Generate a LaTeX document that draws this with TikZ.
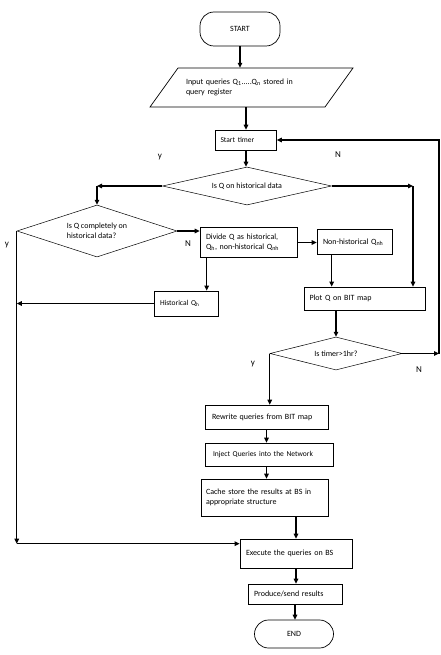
\documentclass[tikz,border=0pt]{standalone}
\usepackage{fontspec}
\setmainfont{Carlito}
\usetikzlibrary{arrows.meta,shapes.geometric,calc}
\begin{document}
\begin{tikzpicture}[x=1pt,y=-1pt,
  font=\fontsize{8}{9.5}\selectfont,
  box/.style={draw, line width=0.7pt, rectangle, inner sep=0pt, align=left},
  dia/.style={draw, line width=0.5pt, diamond, inner sep=0pt, align=left},
  term/.style={draw, line width=0.7pt, rectangle, rounded corners=14pt, inner sep=0pt},
  lab/.style={font=\fontsize{9}{10}\selectfont, inner sep=0pt},
  arr/.style={line width=1.2pt, -{Triangle[length=5pt,width=4.5pt]}},
  ln/.style={line width=1.2pt}]
\useasboundingbox (0,0) rectangle (441,655);

% nodes
\node[term, minimum width=80, minimum height=34] (start) at (240,29) {START};
\draw[line width=0.7pt] (178,68) -- (353,68) -- (325,107) -- (150,107) -- cycle;
\node[inner sep=0pt, text width=140, minimum height=39, align=left] (input) at (256,87.5)
  {Input queries Q\textsubscript{1}.....Q\textsubscript{n} stored in\\query register};
\node[box, minimum width=61, minimum height=20, text width=51] (timer) at (246,140) {\fontsize{7.5}{9}\selectfont Start timer};
\node[dia, minimum width=169, minimum height=38, aspect=4.4] (d1) at (247,186) {Is Q on historical data};
\node[dia, minimum width=160, minimum height=52, aspect=3] (d2) at (97,231) {Is Q completely on\\historical data?};
\node[box, minimum width=97, minimum height=30, text width=85] (divide) at (248.5,242.5)
  {Divide Q as historical,\\Q\textsubscript{h}, non-historical Q\textsubscript{nh}};
\node[box, minimum width=75, minimum height=25, text width=63] (nonhist) at (354.5,242) {Non-historical Q\textsubscript{nh}};
\node[box, minimum width=64, minimum height=25, text width=52] (historical) at (186,303.5) {\fontsize{7.5}{9}\selectfont Historical Q\textsubscript{h}};
\node[box, minimum width=121, minimum height=23, text width=111] (plot) at (365,298.5) {Plot Q on BIT map};
\node[dia, minimum width=132, minimum height=33, aspect=4] (d3) at (336,353.5) {Is timer>1hr?};
\node[box, minimum width=123, minimum height=24, text width=109] (rewrite) at (266.5,417) {Rewrite queries from BIT map};
\node[box, minimum width=128, minimum height=23, text width=112] (inject) at (269,454.5) {\fontsize{7.5}{9}\selectfont Inject Queries into the Network};
\node[box, minimum width=127, minimum height=37, text width=117] (cache) at (264.5,497.5)
  {Cache store the results at BS in\\appropriate structure};
\node[box, minimum width=112, minimum height=29, text width=100] (execute) at (296,553.5) {Execute the queries on BS\\[6pt]};
\node[box, minimum width=94, minimum height=20, text width=82] (produce) at (295,594) {Produce/send results};
\node[term, minimum width=79, minimum height=28] (end) at (294,634) {END};

% branch labels
\node[lab] (ly1) at (160,157) {y};
\node[lab] (ln1) at (338,155) {N};
\node[lab] (ly2) at (7,245) {y};
\node[lab] (ln2) at (188,244) {N};
\node[lab] (ly3) at (253,364) {y};
\node[lab] (ln3) at (419,370) {N};

% helper coordinates
\coordinate (r1) at (413,186);
\coordinate (l1) at (d1.west -| d2.north);
\coordinate (dv) at ($(divide.south west)+(7,0)$);
\coordinate (nh) at ($(nonhist.south west)+(15,0)$);
\coordinate (rl) at (439,353.5);
\coordinate (ex) at ($(execute.north west)+(0,5)$);

% connectors
\draw[arr] (start.south) -- (start.south |- input.north);
\draw[arr] (timer.north |- input.south) -- (timer.north);
\draw[arr] (timer.south) -- (timer.south |- d1.north);
\draw[arr] (d1.east) -- (r1);
\draw[arr] (r1) -- (r1 |- plot.north);
\draw[arr] (d1.west) -- (l1);
\draw[arr] (l1) -- (d2.north);
\draw[arr] (d2.east) -- (d2.east -| divide.west);
\draw[arr] (d2.west) -- (d2.west |- ex);
\draw[arr] (d2.west |- ex) -- (ex);
\draw[arr] (divide.east) -- (divide.east -| nonhist.west);
\draw[arr] (dv) -- (dv |- historical.north);
\draw[arr] (historical.west) -- (historical.west -| d2.west);
\draw[arr] (nh) -- (nh |- plot.north);
\draw[arr] (d3.north |- plot.south) -- (d3.north);
\draw[arr] (d3.east) -- (rl);
\draw[arr] (rl) -- (rl |- timer.east) -- (timer.east);
\draw[arr] (d3.west) -- (d3.west |- rewrite.north);
\draw[arr] (rewrite.south) -- (rewrite.south |- inject.north);
\draw[arr] (rewrite.south |- inject.south) -- (rewrite.south |- cache.north);
\draw[arr] (execute.north |- cache.south) -- (execute.north);
\draw[arr] (execute.south) -- (execute.south |- produce.north);
\draw[arr] (produce.south) -- (produce.south |- end.north);
\end{tikzpicture}
\end{document}
